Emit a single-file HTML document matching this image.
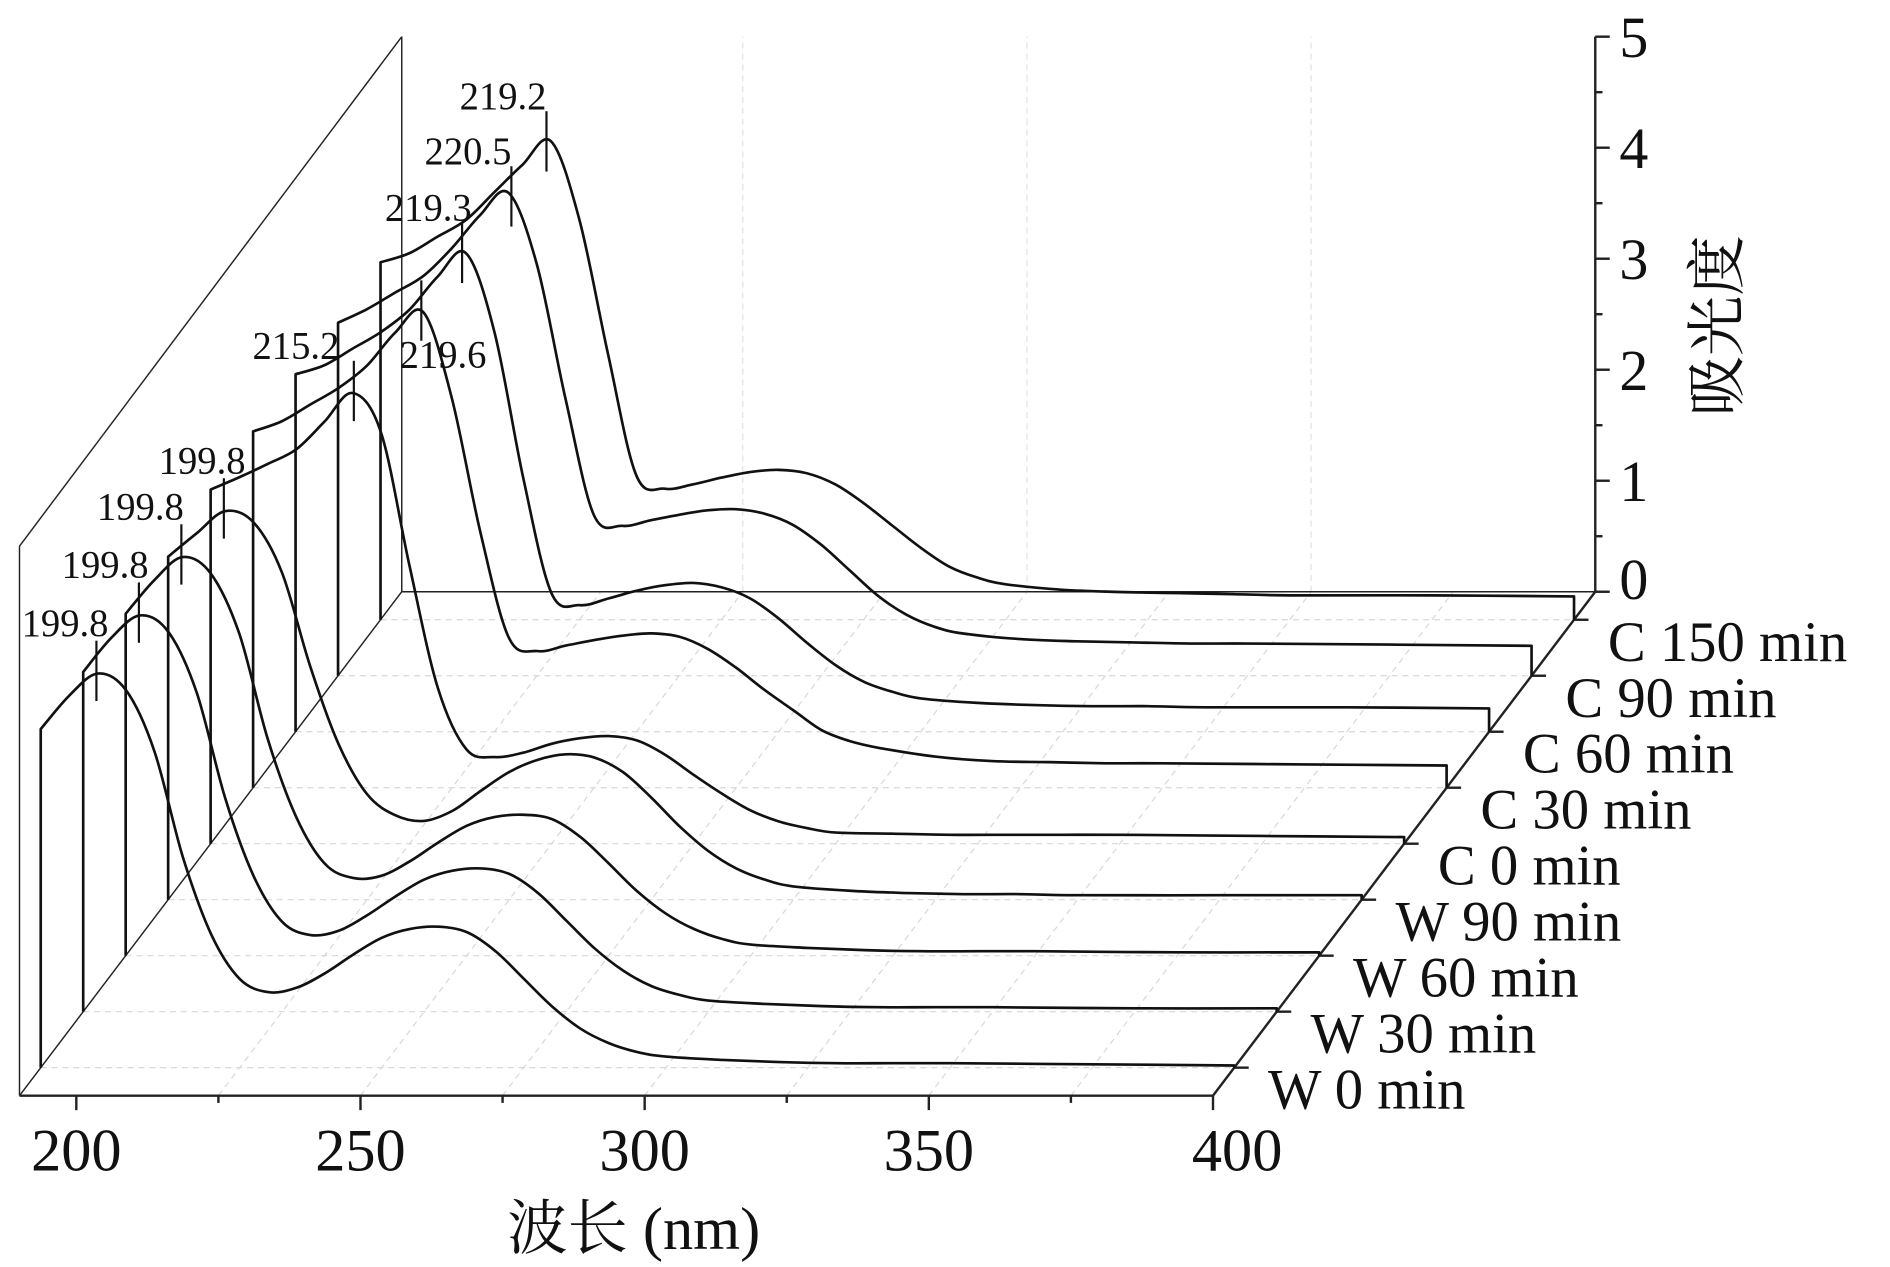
<!DOCTYPE html>
<html><head><meta charset="utf-8"><style>
html,body{margin:0;padding:0;background:#fff;}
svg{display:block;font-family:"Liberation Serif","Noto Serif CJK SC",serif;}
</style></head><body>
<svg id="chart" width="1890" height="1267" viewBox="0 0 1566 1050" xmlns="http://www.w3.org/2000/svg"></svg>
<script>
const wavelengths=[190,195,200,205,210,215,220,225,230,235,240,245,250,255,260,265,270,275,280,285,290,295,300,310,320,330,340,350,375,400];
const seriesNames=["W 0 min","W 30 min","W 60 min","W 90 min","C 0 min","C 30 min","C 60 min","C 90 min","C 150 min"];
const w0=[3.05,3.35,3.55,3.4,2.85,1.9,1.2,0.8,0.68,0.72,0.85,1.02,1.17,1.25,1.27,1.22,1.05,0.8,0.55,0.35,0.22,0.14,0.1,0.07,0.05,0.04,0.04,0.04,0.03,0.02];
const w30=[3.06,3.37,3.57,3.42,2.87,1.92,1.22,0.81,0.69,0.73,0.87,1.04,1.19,1.27,1.29,1.24,1.07,0.82,0.57,0.37,0.23,0.15,0.1,0.07,0.05,0.04,0.04,0.04,0.03,0.03];
const w60=[3.08,3.38,3.59,3.44,2.9,1.95,1.25,0.83,0.7,0.72,0.85,1.02,1.17,1.25,1.27,1.23,1.07,0.83,0.58,0.38,0.24,0.15,0.1,0.07,0.05,0.04,0.04,0.04,0.03,0.03];
const w90=[3.09,3.3,3.5,3.4,2.95,2.1,1.4,0.95,0.76,0.71,0.8,0.98,1.15,1.26,1.31,1.28,1.15,0.92,0.66,0.44,0.28,0.18,0.12,0.08,0.06,0.05,0.05,0.04,0.04,0.04];
const c0=[3.19,3.3,3.42,3.55,3.8,4.06,3.7,2.5,1.4,0.85,0.78,0.82,0.9,0.95,0.97,0.93,0.8,0.62,0.45,0.3,0.2,0.14,0.1,0.09,0.08,0.08,0.08,0.08,0.07,0.06];
const c30=[3.21,3.3,3.45,3.6,3.8,4.1,4.28,3.5,2.3,1.35,1.23,1.28,1.33,1.37,1.39,1.36,1.25,1.08,0.88,0.7,0.52,0.42,0.36,0.28,0.24,0.23,0.22,0.22,0.21,0.2];
const c60=[3.22,3.3,3.45,3.6,3.8,4.1,4.31,3.6,2.3,1.25,1.14,1.2,1.27,1.32,1.34,1.3,1.2,1.02,0.8,0.6,0.45,0.36,0.3,0.26,0.24,0.23,0.23,0.22,0.22,0.21];
const c90=[3.18,3.3,3.45,3.6,3.85,4.15,4.35,3.7,2.5,1.45,1.35,1.4,1.45,1.49,1.5,1.46,1.36,1.18,0.95,0.72,0.55,0.44,0.38,0.33,0.31,0.3,0.29,0.29,0.28,0.27];
const c150=[3.22,3.3,3.45,3.6,3.85,4.1,4.31,3.6,2.4,1.3,1.18,1.22,1.28,1.33,1.35,1.32,1.22,1.05,0.85,0.65,0.48,0.38,0.32,0.27,0.25,0.24,0.23,0.22,0.22,0.21];
const peakWl=[199.8,199.8,199.8,199.8,215.2,219.6,219.3,220.5,219.2];
const peakLabels=["199.8","199.8","199.8","199.8","215.2","219.6","219.3","220.5","219.2"];
const xTicks=[200,250,300,350,400];
const yTicks=[0,1,2,3,4,5];
const allSeries=[w0,w30,w60,w90,c0,c30,c60,c90,c150];

const NS="http://www.w3.org/2000/svg";
const svg=document.getElementById('chart');
const X0=16,PXNM=4.71,Y0=908,PXA=92,DX=35.2,DY=-46.4,NDEPTH=9;
function xs(wl){return X0+(wl-190)*PXNM;}
function dOff(d){return [d*DX,d*DY];}
function px(wl,a,d){const o=dOff(d);return [xs(wl)+o[0],Y0+o[1]-a*PXA];}
function mk(tag,attrs){const e=document.createElementNS(NS,tag);for(const k in attrs)e.setAttribute(k,attrs[k]);svg.appendChild(e);return e;}
function line(x1,y1,x2,y2,st,w,dash){return mk('line',{x1,y1,x2,y2,stroke:st,'stroke-width':w,'stroke-dasharray':dash||'none'});}
function interp(arr,wl){for(let i=0;i<wavelengths.length-1;i++){if(wl>=wavelengths[i]&&wl<=wavelengths[i+1]){const t=(wl-wavelengths[i])/(wavelengths[i+1]-wavelengths[i]);return arr[i]+t*(arr[i+1]-arr[i]);}}return arr[0];}

for(let i=0;i<NDEPTH;i++){
  const a=px(190,0,i+0.5),b=px(400,0,i+0.5);
  const g=line(a[0],a[1],b[0],b[1],'#d8d8d8',1,'5,4');
  
  
}
[225,250,275,300,325,350,375].forEach(t=>{
  const a=px(t,0,0),b=px(t,0,NDEPTH),c=px(t,5,NDEPTH);
  const g1=line(a[0],a[1],b[0],b[1],'#d8d8d8',1,'5,4');
  
  
  if(t%50===0){const g2=line(b[0],b[1],c[0],c[1],'#e2e2e2',1,'5,4');
  
  }
});

function frameLine(p,q,w,name){const l=line(p[0],p[1],q[0],q[1],'#222',w);}
frameLine(px(190,0,0),px(400,0,0),2,'x-axis-line');
frameLine(px(190,0,0),px(190,4.95,0),1.2,'left-front-edge');
frameLine(px(190,4.95,0),px(190,5,NDEPTH),1.2,'top-left-edge');
frameLine(px(190,0,NDEPTH),px(190,5,NDEPTH),1.2,'back-left-edge');
frameLine(px(190,0,NDEPTH),px(400,0,NDEPTH),1.2,'back-floor-edge');
frameLine(px(190,0,0),px(190,0,NDEPTH),1.2,'left-floor-edge');
frameLine(px(400,0,0),px(400,0,NDEPTH),2,'depth-axis-line');
frameLine(px(400,0,NDEPTH),px(400,5,NDEPTH),2,'y-axis-line');

for(let t=200;t<=400;t+=25){
  const p=px(t,0,0);const len=(t%50===0)?12:6;
  const l=line(p[0],p[1],p[0],p[1]+len,'#222',2);
  
  
}
xTicks.forEach(t=>{
  const p=px(t,0,0);
  const tx=mk('text',{x:p[0]+(t===200?0:t===400?20:0),y:p[1]+62,'font-size':50,'text-anchor':'middle',fill:'#111'});
  tx.textContent=t;
  
  
});
for(let v=0;v<=5;v+=0.5){
  const p=px(400,v,NDEPTH);const len=(v%1===0)?12:6;
  const l=line(p[0],p[1],p[0]+len,p[1],'#222',2);
  
  
}
yTicks.forEach(v=>{
  const p=px(400,v,NDEPTH);
  const tx=mk('text',{x:p[0]+20,y:p[1]+(v===0?6:17),'font-size':48,fill:'#111'});
  tx.textContent=v;
  
  
});
for(let i=0;i<NDEPTH;i++){
  const p=px(400,0,i+0.5);
  const l=line(p[0],p[1],p[0]+12,p[1],'#222',2);
  
  
  const tx=mk('text',{x:p[0]+28,y:p[1]+34,'font-size':47,fill:'#111'});
  tx.textContent=seriesNames[i];
  
  
}

function smoothPath(pts){
  let d='';
  for(let i=0;i<pts.length-1;i++){
    const p0=pts[Math.max(0,i-1)],p1=pts[i],p2=pts[i+1],p3=pts[Math.min(pts.length-1,i+2)];
    const c1=[p1[0]+(p2[0]-p0[0])/6,p1[1]+(p2[1]-p0[1])/6];
    const c2=[p2[0]-(p3[0]-p1[0])/6,p2[1]-(p3[1]-p1[1])/6];
    d+=' C'+c1[0].toFixed(1)+','+c1[1].toFixed(1)+' '+c2[0].toFixed(1)+','+c2[1].toFixed(1)+' '+p2[0].toFixed(1)+','+p2[1].toFixed(1);
  }
  return d;
}
const labelOff=[[10,-4],[8,-4],[2,-4],[18,-4],[-12,-2],[54,72],[8,-2],[0,-2],[0,-2]];
for(let i=NDEPTH-1;i>=0;i--){
  const arr=allSeries[i];const d=i+0.5;
  const pts=wavelengths.map((w,k)=>px(w,arr[k],d));
  const b0=px(190,0,d),b1=px(400,0,d);
  const path='M'+b0[0]+','+b0[1]+' L'+pts[0][0]+','+pts[0][1]+smoothPath(pts)+' L'+b1[0]+','+b1[1];
  const p=mk('path',{d:path,fill:'none',stroke:'#111','stroke-width':2.2,'stroke-linejoin':'round'});
  
  
  const pv=interp(arr,peakWl[i]);const pp=px(peakWl[i],pv,d);
  const m=line(pp[0],pp[1]-28,pp[0],pp[1]+22,'#111',1.8);
  
  
  const tx=mk('text',{x:pp[0]+labelOff[i][0],y:pp[1]-28+labelOff[i][1],'font-size':32,'text-anchor':'end',fill:'#111'});
  tx.textContent=peakLabels[i];
  
  
}

const xt=mk('text',{x:525,y:1035,'font-size':50,'text-anchor':'middle',fill:'#111'});
xt.textContent='波长 (nm)';


const yt=mk('text',{x:0,y:0,'font-size':50,'text-anchor':'middle',fill:'#111',transform:'translate(1440,270) rotate(-90)'});
yt.textContent='吸光度';


</script>
</body></html>
